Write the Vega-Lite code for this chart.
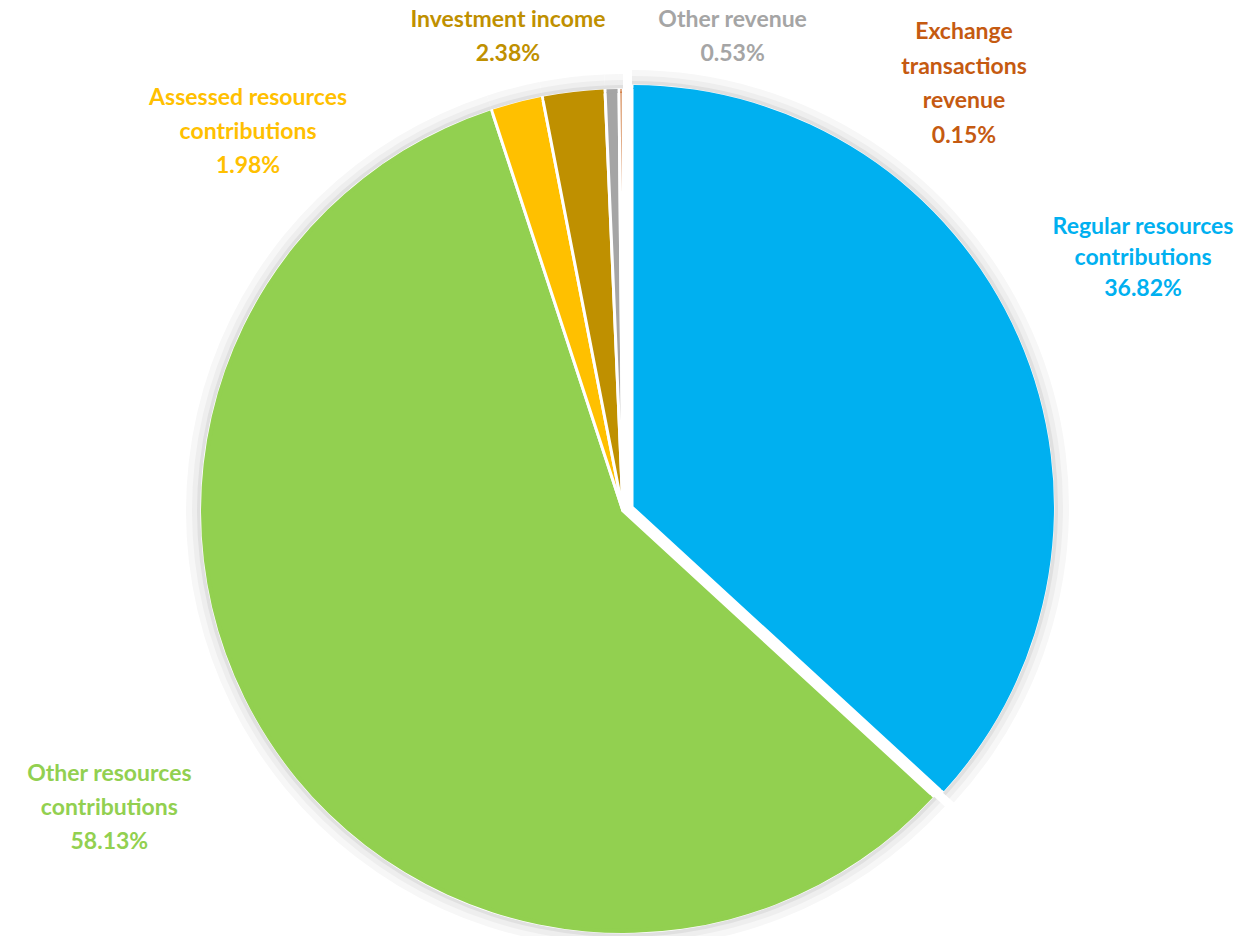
{
  "$schema": "https://vega.github.io/schema/vega-lite/v6.json",
  "autosize": "none",
  "width": 1246,
  "height": 844,
  "padding": {"left": 0, "top": 89, "right": 12, "bottom": 3},
  "background": "white",
  "config": {"view": {"stroke": null}},
  "data": {
    "values": [
      {"rank": 1, "name": "Regular resources contributions", "value": 36.82, "label": "Regular resources\ncontributions\n36.82%"},
      {"rank": 2, "name": "Other resources contributions", "value": 58.13, "label": "Other resources\ncontributions\n58.13%"},
      {"rank": 3, "name": "Assessed resources contributions", "value": 1.98, "label": "Assessed resources\ncontributions\n1.98%"},
      {"rank": 4, "name": "Investment income", "value": 2.38, "label": "Investment income\n2.38%"},
      {"rank": 5, "name": "Other revenue", "value": 0.53, "label": "Other revenue\n0.53%"},
      {"rank": 6, "name": "Exchange transactions revenue", "value": 0.15, "label": "Exchange\ntransactions\nrevenue\n0.15%"}
    ]
  },
  "encoding": {
    "theta": {"field": "value", "type": "quantitative", "stack": true},
    "order": {"field": "rank", "type": "quantitative"}
  },
  "layer": [
    {
      "mark": {"type": "arc", "outerRadius": 437, "fill": "#f7f7f7"},
      "encoding": {"opacity": {"condition": {"test": "datum.rank === 1", "value": 0}, "value": 1}}
    },
    {
      "mark": {"type": "arc", "outerRadius": 431, "fill": "#eeeeee"},
      "encoding": {"opacity": {"condition": {"test": "datum.rank === 1", "value": 0}, "value": 1}}
    },
    {
      "mark": {"type": "arc", "outerRadius": 426, "fill": "#e0e0e0"},
      "encoding": {"opacity": {"condition": {"test": "datum.rank === 1", "value": 0}, "value": 1}}
    },
    {
      "mark": {"type": "arc", "outerRadius": 437, "fill": "#f7f7f7", "xOffset": 9, "yOffset": -4},
      "encoding": {"opacity": {"condition": {"test": "datum.rank === 1", "value": 1}, "value": 0}}
    },
    {
      "mark": {"type": "arc", "outerRadius": 431, "fill": "#eeeeee", "xOffset": 9, "yOffset": -4},
      "encoding": {"opacity": {"condition": {"test": "datum.rank === 1", "value": 1}, "value": 0}}
    },
    {
      "mark": {"type": "arc", "outerRadius": 426, "fill": "#e0e0e0", "xOffset": 9, "yOffset": -4},
      "encoding": {"opacity": {"condition": {"test": "datum.rank === 1", "value": 1}, "value": 0}}
    },
    {
      "mark": {"type": "arc", "outerRadius": 421, "stroke": "white", "strokeWidth": 3},
      "encoding": {
        "color": {"field": "name", "type": "nominal", "legend": null,
          "scale": {"domain": ["Regular resources contributions", "Other resources contributions", "Assessed resources contributions", "Investment income", "Other revenue", "Exchange transactions revenue"],
                    "range": ["#00B0F0", "#92D050", "#FFC000", "#BF9000", "#A5A5A5", "#C55A11"]}},
        "opacity": {"condition": {"test": "datum.rank === 1", "value": 0}, "value": 1}
      }
    },
    {
      "mark": {"type": "arc", "innerRadius": 418, "outerRadius": 422, "padAngle": 0.005},
      "encoding": {
        "color": {"field": "name", "type": "nominal", "legend": null},
        "opacity": {"condition": {"test": "datum.rank === 1", "value": 0}, "value": 1}
      }
    },
    {
      "mark": {"type": "arc", "outerRadius": 421, "stroke": "white", "strokeWidth": 3, "xOffset": 9, "yOffset": -4},
      "encoding": {
        "color": {"field": "name", "type": "nominal", "legend": null},
        "opacity": {"condition": {"test": "datum.rank === 1", "value": 1}, "value": 0}
      }
    },
    {
      "mark": {"type": "arc", "innerRadius": 418, "outerRadius": 422, "padAngle": 0.005, "xOffset": 9, "yOffset": -4},
      "encoding": {
        "color": {"field": "name", "type": "nominal", "legend": null},
        "opacity": {"condition": {"test": "datum.rank === 1", "value": 1}, "value": 0}
      }
    },
    {
      "mark": {"type": "text", "radius": 568, "dx": 0, "dy": -56, "font": "Lato", "fontWeight": "bold", "fontSize": 23, "lineBreak": "\n", "lineHeight": 31, "align": "center", "baseline": "middle"},
      "encoding": {
        "color": {"field": "name", "type": "nominal", "legend": null},
        "text": {"condition": {"test": "datum.rank === 1", "field": "label"}, "value": ""}
      }
    },
    {
      "mark": {"type": "text", "radius": 611, "dx": 0, "dy": -68, "font": "Lato", "fontWeight": "bold", "fontSize": 23, "lineBreak": "\n", "lineHeight": 34, "align": "center", "baseline": "middle"},
      "encoding": {
        "color": {"field": "name", "type": "nominal", "legend": null},
        "text": {"condition": {"test": "datum.rank === 2", "field": "label"}, "value": ""}
      }
    },
    {
      "mark": {"type": "text", "radius": 393, "dx": -276, "dy": -33, "font": "Lato", "fontWeight": "bold", "fontSize": 23, "lineBreak": "\n", "lineHeight": 34, "align": "center", "baseline": "middle"},
      "encoding": {
        "color": {"field": "name", "type": "nominal", "legend": null},
        "text": {"condition": {"test": "datum.rank === 3", "field": "label"}, "value": ""}
      }
    },
    {
      "mark": {"type": "text", "radius": 478, "dx": -59, "dy": -16, "font": "Lato", "fontWeight": "bold", "fontSize": 23, "lineBreak": "\n", "lineHeight": 34, "align": "center", "baseline": "middle"},
      "encoding": {
        "color": {"field": "name", "type": "nominal", "legend": null},
        "text": {"condition": {"test": "datum.rank === 4", "field": "label"}, "value": ""}
      }
    },
    {
      "mark": {"type": "text", "radius": 475, "dx": 122, "dy": -16, "font": "Lato", "fontWeight": "bold", "fontSize": 23, "lineBreak": "\n", "lineHeight": 34, "align": "center", "baseline": "middle"},
      "encoding": {
        "color": {"field": "name", "type": "nominal", "legend": null},
        "text": {"condition": {"test": "datum.rank === 5", "field": "label"}, "value": ""}
      }
    },
    {
      "mark": {"type": "text", "radius": 429, "dx": 343, "dy": -50, "font": "Lato", "fontWeight": "bold", "fontSize": 23, "lineBreak": "\n", "lineHeight": 34.5, "align": "center", "baseline": "middle"},
      "encoding": {
        "color": {"field": "name", "type": "nominal", "legend": null},
        "text": {"condition": {"test": "datum.rank === 6", "field": "label"}, "value": ""}
      }
    }
  ]
}
